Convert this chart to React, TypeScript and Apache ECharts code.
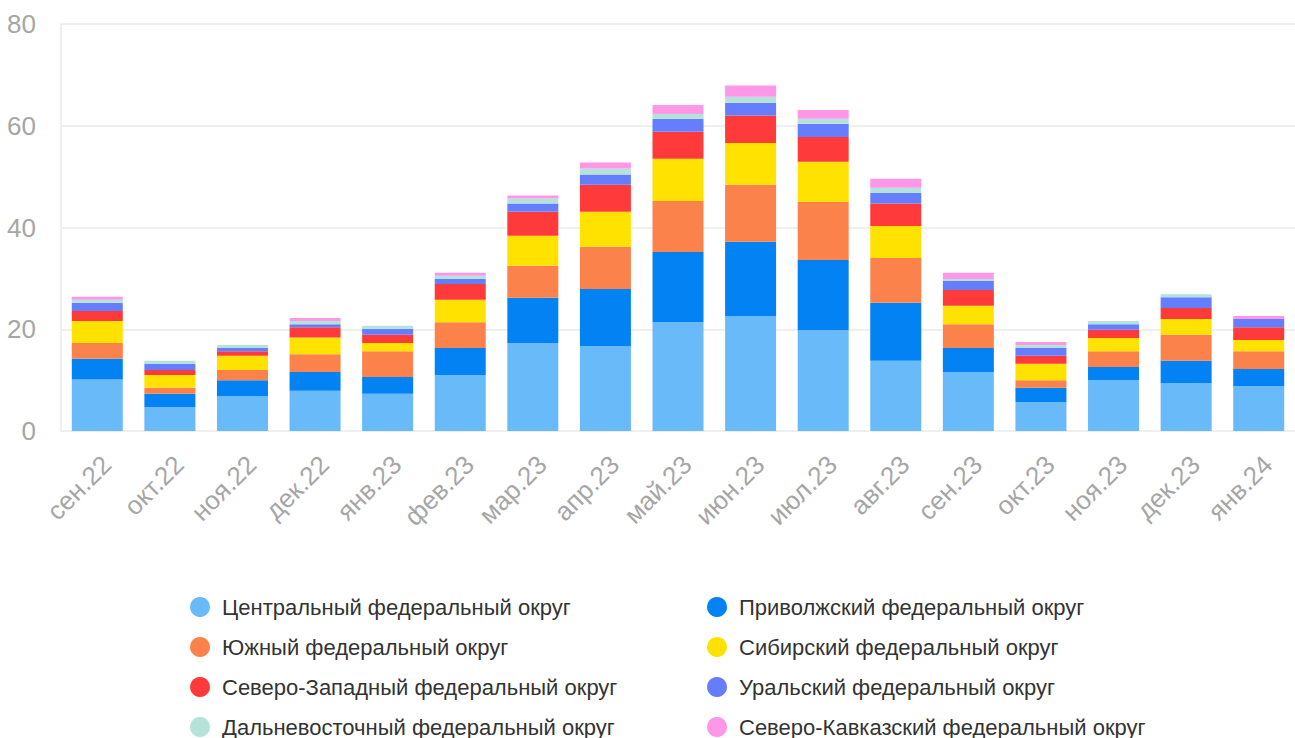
import React, { useEffect, useRef } from "react";
import * as echarts from "echarts";

const categories = ["сен.22", "окт.22", "ноя.22", "дек.22", "янв.23", "фев.23", "мар.23", "апр.23", "май.23", "июн.23", "июл.23", "авг.23", "сен.23", "окт.23", "ноя.23", "дек.23", "янв.24"];

const central = [10.1, 4.7, 6.9, 7.9, 7.3, 11.0, 17.3, 16.7, 21.4, 22.6, 19.8, 13.8, 11.6, 5.7, 10.0, 9.4, 8.8];
const privolzhsky = [4.1, 2.6, 3.1, 3.7, 3.3, 5.3, 8.9, 11.2, 13.8, 14.6, 13.8, 11.4, 4.7, 2.8, 2.6, 4.4, 3.4];
const southern = [3.1, 1.2, 2.0, 3.5, 5.1, 5.1, 6.3, 8.3, 10.0, 11.2, 11.4, 8.8, 4.7, 1.5, 3.1, 5.1, 3.5];
const siberian = [4.3, 2.5, 2.8, 3.3, 1.6, 4.4, 5.9, 6.9, 8.3, 8.2, 7.9, 6.3, 3.6, 3.2, 2.6, 3.1, 2.2];
const northwestern = [2.0, 1.0, 0.9, 2.0, 1.6, 3.1, 4.7, 5.3, 5.3, 5.4, 4.9, 4.4, 3.1, 1.6, 1.6, 2.2, 2.5];
const ural = [1.6, 1.2, 0.6, 0.6, 1.2, 1.0, 1.6, 2.0, 2.6, 2.5, 2.6, 2.1, 1.8, 1.5, 1.1, 2.1, 1.6];
const farEastern = [0.6, 0.6, 0.6, 0.6, 0.6, 0.6, 1.0, 1.2, 0.9, 1.2, 1.0, 1.0, 0.4, 0.6, 0.6, 0.6, 0];
const northCaucasian = [0.6, 0, 0, 0.6, 0, 0.6, 0.6, 1.2, 1.8, 2.2, 1.7, 1.8, 1.2, 0.6, 0, 0, 0.6];

const seriesNames = [
  "Центральный федеральный округ",
  "Приволжский федеральный округ",
  "Южный федеральный округ",
  "Сибирский федеральный округ",
  "Северо-Западный федеральный округ",
  "Уральский федеральный округ",
  "Дальневосточный федеральный округ",
  "Северо-Кавказский федеральный округ",
];
const seriesData = [central, privolzhsky, southern, siberian, northwestern, ural, farEastern, northCaucasian];
const colors = ["#69baf9", "#0282f3", "#fb824a", "#ffe200", "#ff3a3a", "#657eff", "#b3e3d9", "#ff97e9"];

const yTicks = { min: 0, max: 80, interval: 20 };

const FONT = "'Liberation Sans', Arial, Helvetica, sans-serif";

export default function App() {
  const ref = useRef<HTMLDivElement>(null);
  useEffect(() => {
    if (!ref.current) return;
    const chart = echarts.init(ref.current, null, { renderer: "svg" });
    const legendCommon = {
      orient: "vertical" as const,
      icon: "circle",
      itemWidth: 34,
      itemHeight: 20,
      itemGap: 18,
      top: 596,
      height: 400,
      padding: 0,
      selectedMode: false,
      textStyle: { fontSize: 22, color: "#333", fontFamily: FONT, lineHeight: 20 },
    };
    chart.setOption({
      animation: false,
      color: colors,
      textStyle: { fontFamily: FONT },
      grid: { left: 61, top: 24, width: 1244, height: 407, containLabel: false },
      legend: [
        { ...legendCommon, left: 190, data: [seriesNames[0], seriesNames[2], seriesNames[4], seriesNames[6]] },
        { ...legendCommon, left: 707, data: [seriesNames[1], seriesNames[3], seriesNames[5], seriesNames[7]] },
      ],
      xAxis: {
        type: "category",
        data: categories,
        axisLine: { show: true, lineStyle: { color: "#efefef", width: 2 } },
        axisTick: { show: false },
        axisLabel: { rotate: 45, fontSize: 26, color: "#a6a6a6", margin: 20, verticalAlign: "top", fontFamily: FONT },
      },
      yAxis: {
        type: "value",
        min: yTicks.min,
        max: yTicks.max,
        interval: yTicks.interval,
        axisLine: { show: true, lineStyle: { color: "#efefef", width: 2 } },
        axisTick: { show: false },
        splitLine: { show: true, lineStyle: { color: "#efefef", width: 2 } },
        axisLabel: { fontSize: 26, color: "#a6a6a6", margin: 25, fontFamily: FONT },
      },
      series: seriesNames.map((name, i) => ({
        name,
        type: "bar",
        stack: "total",
        barWidth: 51,
        data: seriesData[i],
        itemStyle: { color: colors[i] },
      })),
    });
    return () => chart.dispose();
  }, []);
  return (
    <div
      ref={ref}
      style={{ position: "absolute", left: 0, top: 0, width: 1295, height: 738, overflow: "hidden", background: "#fff" }}
    />
  );
}
